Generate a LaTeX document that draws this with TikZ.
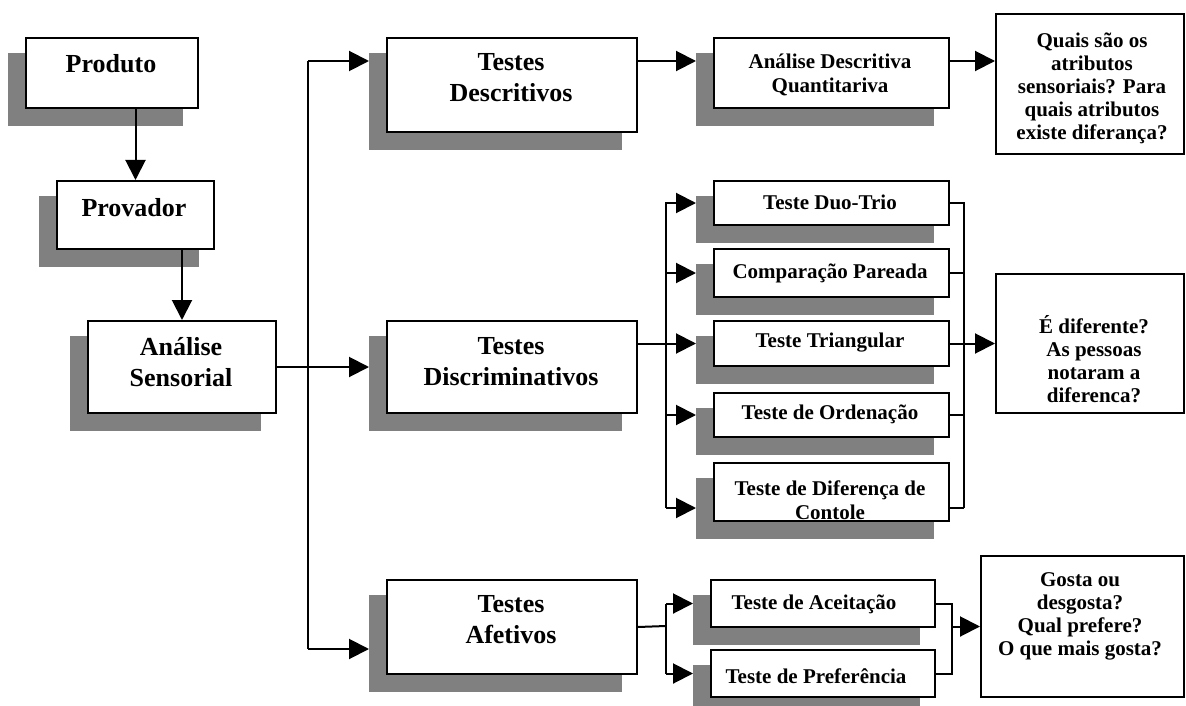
\documentclass[tikz,border=0pt]{standalone}
\usepackage{fontspec}
\setmainfont{Liberation Serif}
\usetikzlibrary{arrows.meta,backgrounds,calc}
\definecolor{shadowc}{HTML}{808080}
\begin{document}
\begin{tikzpicture}[x=1pt,y=-1pt,
  box/.style={draw, line width=2pt, fill=white, inner sep=0pt, anchor=north west},
  big/.style={font=\bfseries\fontsize{26}{31}\selectfont, align=center, inner sep=0pt},
  small/.style={font=\bfseries\fontsize{21}{24}\selectfont, align=center, inner sep=0pt},
  qtxt/.style={font=\bfseries\fontsize{21}{23}\selectfont, align=center, inner sep=0pt},
  ln/.style={line width=2pt},
  arr/.style={ln, -{Triangle[length=20pt,width=20pt]}},
  sarr/.style={arr, shorten >=17pt},
]
\useasboundingbox (0,0) rectangle (1186,706);

% boxes
\node[box, minimum width=172pt, minimum height=70pt] (prod) at (25,37) {};
\node[box, minimum width=157pt, minimum height=68pt] (prov) at (56,180) {};
\node[box, minimum width=188pt, minimum height=92pt] (anal) at (87,320) {};
\node[box, minimum width=250pt, minimum height=94pt] (tdes) at (386,37) {};
\node[box, minimum width=250pt, minimum height=92pt] (tdis) at (386,320) {};
\node[box, minimum width=250pt, minimum height=94pt] (tafe) at (386,579) {};
\node[box, minimum width=235pt, minimum height=70pt] (ada) at (713,37) {};
\node[box, minimum width=235pt, minimum height=44pt] (duo) at (713,180) {};
\node[box, minimum width=235pt, minimum height=48pt] (comp) at (713,248) {};
\node[box, minimum width=235pt, minimum height=45pt] (tri) at (713,320) {};
\node[box, minimum width=235pt, minimum height=44pt] (ord) at (713,392) {};
\node[box, minimum width=235pt, minimum height=58pt] (dif) at (713,462) {};
\node[box, minimum width=224pt, minimum height=47pt] (acei) at (710,579) {};
\node[box, minimum width=224pt, minimum height=47pt] (pref) at (710,649) {};
\node[box, minimum width=188pt, minimum height=140pt] (quais) at (995,13) {};
\node[box, minimum width=188pt, minimum height=139pt] (edif) at (995,273) {};
\node[box, minimum width=203pt, minimum height=141pt] (gosta) at (980,555) {};

% shadows
\begin{scope}[on background layer]
\foreach \n in {prod,prov,anal,tdes,tdis,tafe,ada,duo,comp,tri,ord,dif,acei,pref}{
  \fill[shadowc] ($(\n.north west)+(-17,16)$) rectangle ($(\n.south east)+(-16,17)$);
}
\end{scope}

% texts
\node[big] (prodt) at (111,64) {Produto};
\node[big] (provt) at (134,208) {Provador};
\node[big] (analt) at (181,362) {Análise\\Sensorial};
\node[big] (tdest) at (511,78) {Testes\\Descritivos};
\node[big] (tdist) at (511,362) {Testes\\Discriminativos};
\node[big] (tafet) at (511,620) {Testes\\Afetivos};
\node[small] (adat) at (830,75) {Análise Descritiva\\Quantitariva};
\node[small] (duot) at (830,202) {Teste Duo-Trio};
\node[small] (compt) at (830,273) {Comparação Pareada};
\node[small] (trit) at (830,343) {Teste Triangular};
\node[small] (ordt) at (830,414) {Teste de Ordenação};
\node[small] (dift) at (830,500) {Teste de Diferença de\\Contole};
\node[small] (aceit) at (814,604) {Teste de Aceitação};
\node[small] (preft) at (816,676) {Teste de Preferência};
\node[qtxt] (quaist) at (1092,88) {Quais são os\\atributos\\sensoriais? Para\\quais atributos\\existe diferança?};
\node[qtxt] (ediff) at (1094,359) {É diferente?\\As pessoas\\notaram a\\diferenca?};
\node[qtxt] (gostat) at (1080,616) {Gosta ou\\desgosta?\\Qual prefere?\\O que mais gosta?};

% left chain
\draw[arr] (prod.south -| prov.north) -- (prov.north);
\draw[arr] (prov.south -| anal.north) -- (anal.north);

% main trunk
\coordinate (lt) at (308,61);
\coordinate (lb) at (308,649);
\draw[ln] (lt) -- (lb);
\draw[sarr] (anal.east) -- (tdis.west);
\draw[sarr] (lt) -- (lt -| tdes.west);
\draw[sarr] (lb) -- (lb -| tafe.west);

% descriptive
\draw[sarr] (tdes.east |- lt) -- (ada.west |- lt);
\draw[arr] (ada.east |- lt) -- (quais.west |- lt);

% discriminative
\coordinate (dt) at (666,202);
\coordinate (db) at (666,508);
\draw[ln] (dt) -- (db);
\draw[sarr] (tdis.east |- tri.west) -- (tri.west);
\draw[sarr] (dt |- duo.west) -- (duo.west);
\draw[sarr] (dt |- comp.west) -- (comp.west);
\draw[sarr] (dt |- ord.west) -- (ord.west);
\draw[sarr] (db) -- (db -| dif.west);
\coordinate (rt) at (964,202);
\coordinate (rb) at (964,508);
\draw[ln] (rt) -- (rb);
\draw[ln] (duo.east) -- (duo.east -| rt);
\draw[ln] (comp.east) -- (comp.east -| rt);
\draw[ln] (ord.east) -- (ord.east -| rt);
\draw[ln] (dif.east |- rb) -- (rb);
\draw[arr] (tri.east) -- (edif.west);

% affective
\coordinate (ax) at (666,626);
\draw[ln] (tafe.east) -- (ax);
\draw[ln] (ax |- acei.west) -- (ax |- pref.west);
\draw[sarr] (ax |- acei.west) -- (acei.west);
\draw[sarr] (ax |- pref.west) -- (pref.west);
\coordinate (ar) at (952,626);
\draw[ln] (acei.east) -- (acei.east -| ar) -- (pref.east -| ar) -- (pref.east);
\draw[arr] (ar |- gosta.west) -- (gosta.west);
\end{tikzpicture}
\end{document}
